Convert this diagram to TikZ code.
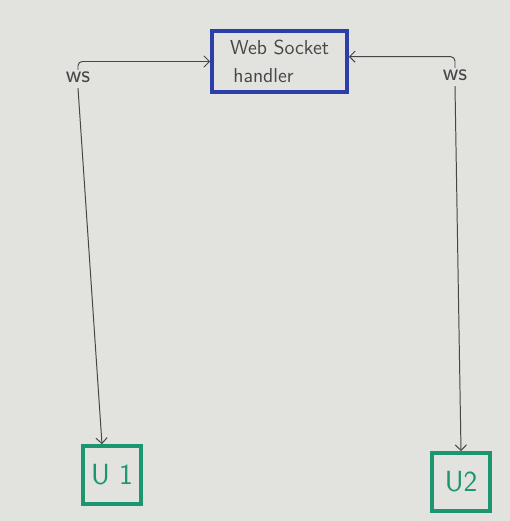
\documentclass[tikz,border=0pt]{standalone}
\usepackage{tikz}
\usetikzlibrary{arrows.meta, positioning}

\definecolor{board}{RGB}{226,226,223}
\definecolor{marker}{RGB}{44,62,168}
\definecolor{teal}{RGB}{28,150,112}
\definecolor{pen}{RGB}{70,70,70}

\begin{document}
\begin{tikzpicture}[
        x=0.025cm, y=-0.025cm,
        server/.style={rectangle, draw=marker, line width=2.6pt, minimum width=3.375cm, minimum height=1.525cm, align=left, font=\sffamily\Large, text=pen},
        user/.style={rectangle, draw=teal, line width=2.6pt, minimum width=1.45cm, minimum height=1.45cm, font=\sffamily\huge, text=teal},
        proto/.style={font=\sffamily\LARGE, text=pen, inner sep=1pt},
        edge/.style={-{Straight Barb[length=4pt]}, pen, line width=0.7pt, rounded corners=3pt}
    ]
        % whiteboard
        \fill[board] (0,0) rectangle (510,521);
        \useasboundingbox (0,0) rectangle (510,521);

        % server and clients
        \node[server] (handler) at (279.5,61.5) {Web Socket\\[2pt]\,handler};
        \node[user] (u1) at (112,475) {U 1};
        \node[user] (u2) at (461,482) {U2};

        \node[proto] (ws1) at (78,77) {ws};
        \node[proto] (ws2) at (455,75) {ws};

        \draw[edge] (ws1.north) |- (handler.west);
        \draw[edge] (ws2.north) |- ([yshift=0.12cm]handler.east);
        \draw[edge] ([yshift=-0.1cm]ws1.south) -- ([xshift=-0.25cm]u1.north);
        \draw[edge] ([yshift=-0.1cm]ws2.south) -- (u2.north);

    \end{tikzpicture}
\end{document}
